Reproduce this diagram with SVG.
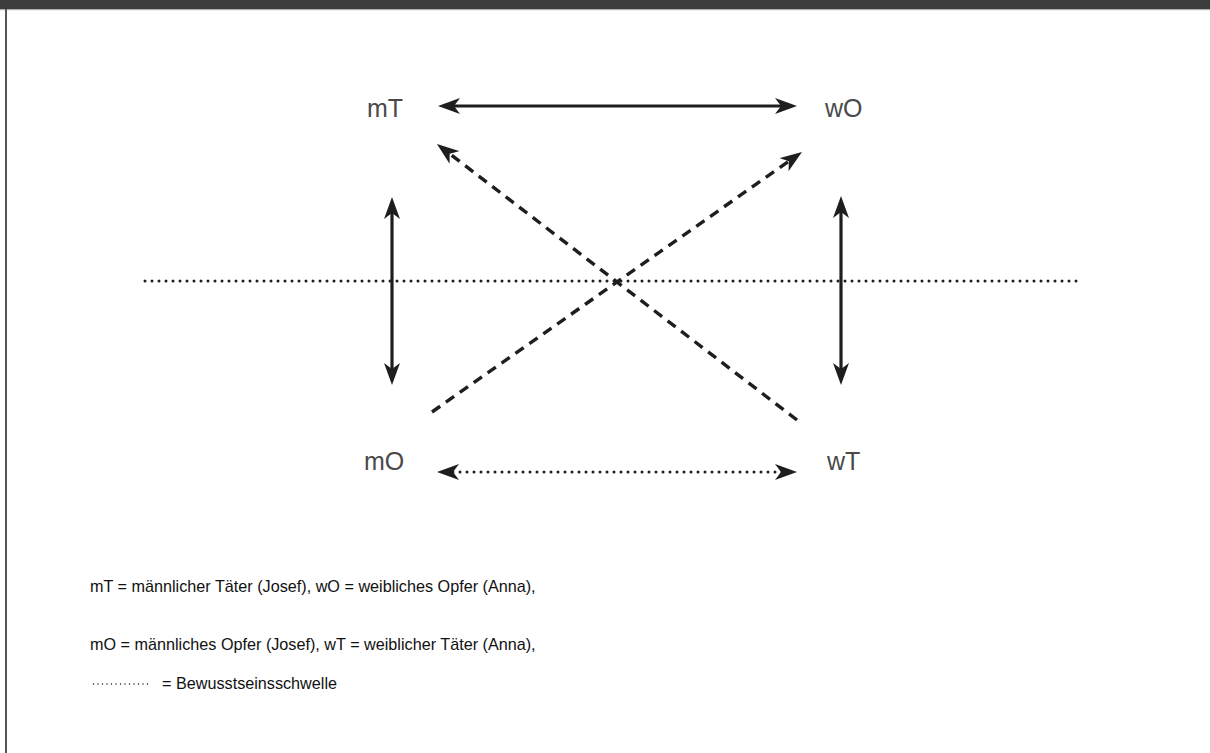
<svg xmlns="http://www.w3.org/2000/svg" width="1210" height="753" viewBox="0 0 1210 753">
<style>
.lbl{font-family:"Liberation Sans",Arial,sans-serif;font-size:25px;fill:#4a4a4a}
.leg{font-family:"Liberation Sans",Arial,sans-serif;font-size:16.2px;fill:#111}
.solid{stroke:#1e1e1e;stroke-width:3.2;fill:none}
.dash{stroke:#1e1e1e;stroke-width:3.4;fill:none;stroke-dasharray:10 7}
.dot{stroke:#1e1e1e;stroke-width:3;fill:none;stroke-dasharray:0 7;stroke-linecap:round}
</style>
<defs>
<marker id="ah" viewBox="0 0 22 16" refX="13" refY="8" markerWidth="22" markerHeight="16" markerUnits="userSpaceOnUse" orient="auto-start-reverse">
<path d="M0,0 L22,8 L0,16 L6,8 Z" fill="#1e1e1e"/>
</marker>
</defs>
<rect x="0" y="0" width="1210" height="753" fill="#fff"/>
<rect x="0" y="0" width="1210" height="9" fill="#3c3c3c"/>
<rect x="0" y="9" width="1210" height="1.2" fill="#b0b0b0"/>
<rect x="5" y="9" width="2" height="744" fill="#555"/>
<g id="connectors">
<line class="dot" x1="145" y1="281" x2="1078" y2="281"/>
<line class="solid" x1="447" y1="106" x2="788" y2="106" marker-start="url(#ah)" marker-end="url(#ah)"/>
<line class="solid" x1="392" y1="206" x2="392" y2="376" marker-start="url(#ah)" marker-end="url(#ah)"/>
<line class="solid" x1="841" y1="205" x2="841" y2="376" marker-start="url(#ah)" marker-end="url(#ah)"/>
<line class="dot" x1="446" y1="472" x2="788" y2="472" marker-start="url(#ah)" marker-end="url(#ah)"/>
<line class="dash" x1="432" y1="412" x2="794.6" y2="157.2" marker-end="url(#ah)"/>
<line class="dash" x1="797" y1="420" x2="444.1" y2="149.5" marker-end="url(#ah)"/>
</g>
<g id="mT"><text class="lbl" x="367" y="117">mT</text></g>
<g id="wO"><text class="lbl" x="825" y="117">wO</text></g>
<g id="mO"><text class="lbl" x="364" y="470">mO</text></g>
<g id="wT"><text class="lbl" x="827" y="470">wT</text></g>
<g id="legend">
<text class="leg" x="90" y="592">mT = männlicher Täter (Josef), wO = weibliches Opfer (Anna),</text>
<text class="leg" x="90" y="650">mO = männliches Opfer (Josef), wT = weiblicher Täter (Anna),</text>
<line x1="93.5" y1="684" x2="148" y2="684" stroke="#111" stroke-width="1.4" stroke-dasharray="0 4.5" stroke-linecap="round"/>
<text class="leg" x="162" y="689">= Bewusstseinsschwelle</text>
</g>
</svg>
